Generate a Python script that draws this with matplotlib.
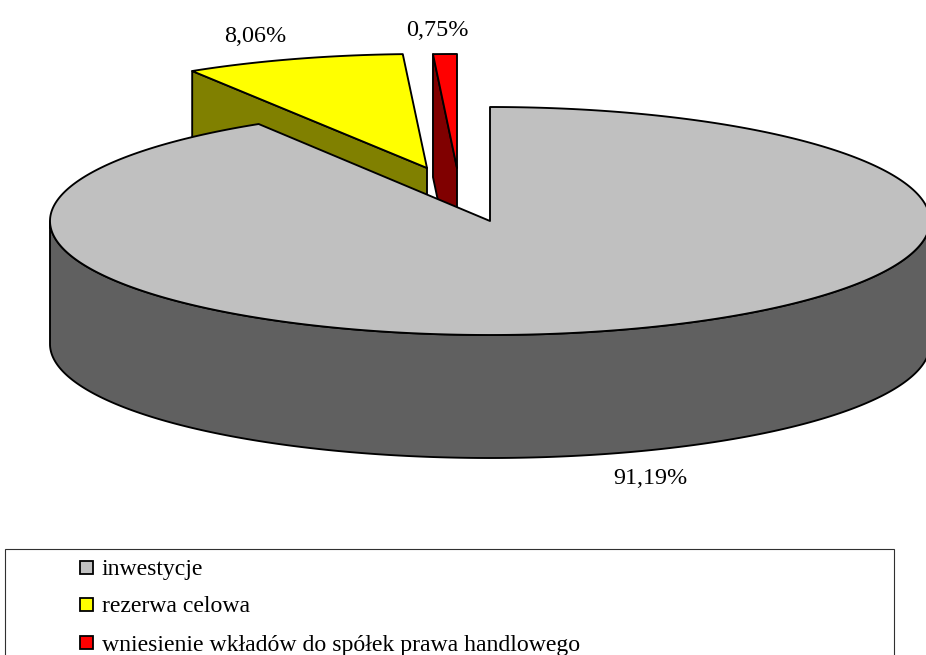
import numpy as np
import matplotlib
matplotlib.use('Agg')
import matplotlib.pyplot as plt
from matplotlib.patches import Polygon, Rectangle

plt.rcParams['font.family'] = ['Liberation Serif', 'DejaVu Serif']

# dane
categories = ['inwestycje', 'rezerwa celowa', 'wniesienie wkładów do spółek prawa handlowego']
values = [91.19, 8.06, 0.75]
pct_labels = ['91,19%', '8,06%', '0,75%']

top_colors = ['#c0c0c0', '#ffff00', '#ff0000']
wall_colors = ['#606060', '#808000', '#800000']

# uklad w pikselach
cx, cy = 490, 221
rxs = [440, 440, 510]
ry = 114
depth = 123
tips = [(cx, cy), (427, 168), (457, 168)]
arc_shift = [0, -3.5, 0]
label_pos = [(650, 479), (255, 36), (437, 30)]
lw = 1.35

fig = plt.figure(figsize=(9.26, 6.55), dpi=100)
ax = fig.add_axes([0, 0, 1, 1])
ax.set_xlim(0, 926)
ax.set_ylim(655, 0)
ax.axis('off')


def arc(tip, a0, a1, rx, shift=0):
    t = np.radians(np.linspace(a0, a1, 400))
    return tip[0] + shift + rx*np.sin(t), tip[1] - ry*np.cos(t)


edges = np.cumsum([0] + values) / sum(values) * 360

# najpierw male wycinki (tyl), potem duzy z przodu
for i in [2, 1, 0]:
    a0, a1 = edges[i], edges[i+1]
    tip = tips[i]
    x, y = arc(tip, a0, a1, rxs[i], arc_shift[i])
    if i == 0:
        # sciana zewnetrzna, tylko przednia polowa
        wx, wy = arc(tip, 90, 270, rxs[i])
        wall = np.r_[np.c_[wx, wy], np.c_[wx[::-1], wy[::-1]+depth]]
    else:
        # sciana ciecia widoczna od przodu
        wall = np.array([[x[0], y[0]], [tip[0], tip[1]],
                         [tip[0], tip[1]+depth], [x[0], y[0]+depth]])
    ax.add_patch(Polygon(wall, closed=True, fc=wall_colors[i], ec='black', lw=lw, joinstyle='round'))
    top = np.r_[[tip], np.c_[x, y]]
    ax.add_patch(Polygon(top, closed=True, fc=top_colors[i], ec='black', lw=lw, joinstyle='round'))
    ax.text(label_pos[i][0], label_pos[i][1], pct_labels[i], fontsize=17.4,
            ha='center', va='center', color='black')

# legenda
ax.add_patch(Rectangle((5, 549), 889, 130, fc='white', ec='#303030', lw=0.8))
legend_y = [567, 604, 642]
text_y = [569, 606, 645]
for name, col, ly, ty in zip(categories, top_colors, legend_y, text_y):
    ax.add_patch(Rectangle((80, ly-6.5), 13, 13, fc=col, ec='black', lw=1.3))
    ax.text(102, ty, name, fontsize=17.1, ha='left', va='center', color='black')

fig.savefig('out.png', dpi=100)
